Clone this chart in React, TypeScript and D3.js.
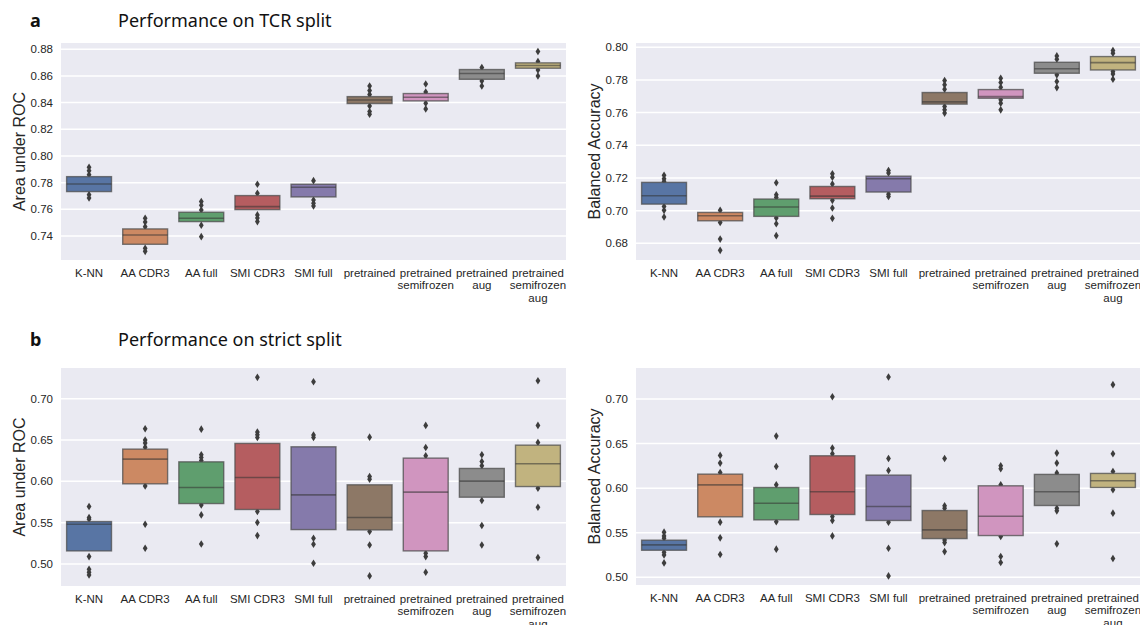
import React from 'react';
import * as d3 from 'd3';

// model names, one entry per box (split into lines for the tick labels)
const models = [
  ['K-NN'],
  ['AA CDR3'],
  ['AA full'],
  ['SMI CDR3'],
  ['SMI full'],
  ['pretrained'],
  ['pretrained', 'semifrozen'],
  ['pretrained', 'aug'],
  ['pretrained', 'semifrozen', 'aug'],
];

const palette = ['#5875a4', '#cc8963', '#5f9e6e', '#b55d60', '#857aab', '#8d7866', '#d095bf', '#8c8c8c', '#c1b37f'];

// a) TCR split, area under ROC
const tcrAucQ1 = [0.7733, 0.7338, 0.7508, 0.7598, 0.7693, 0.8393, 0.8413, 0.8575, 0.8658];
const tcrAucMed = [0.779, 0.7408, 0.7533, 0.762, 0.7765, 0.842, 0.844, 0.8618, 0.8678];
const tcrAucQ3 = [0.7845, 0.7453, 0.7578, 0.7703, 0.7788, 0.8445, 0.8468, 0.8648, 0.8698];
const tcrAucOut = [
  [0.7915, 0.789, 0.786, 0.771, 0.7685],
  [0.7533, 0.7505, 0.747, 0.7308, 0.7285],
  [0.7658, 0.763, 0.7595, 0.748, 0.7395],
  [0.7788, 0.772, 0.7558, 0.7535, 0.7508],
  [0.7815, 0.767, 0.7645, 0.7625],
  [0.8525, 0.849, 0.846, 0.8375, 0.8333, 0.8313],
  [0.854, 0.848, 0.8395, 0.8353],
  [0.8663, 0.8563, 0.8525],
  [0.8783, 0.8708, 0.8645, 0.86],
];
const tcrAucTicks = [0.74, 0.76, 0.78, 0.8, 0.82, 0.84, 0.86, 0.88];

// a) TCR split, balanced accuracy
const tcrAccQ1 = [0.704, 0.6938, 0.6965, 0.7073, 0.7114, 0.7652, 0.7688, 0.7841, 0.7861];
const tcrAccMed = [0.7091, 0.6969, 0.7022, 0.7089, 0.7195, 0.7666, 0.7698, 0.7868, 0.7906];
const tcrAccQ3 = [0.7173, 0.6989, 0.7071, 0.7148, 0.7211, 0.7723, 0.7741, 0.7908, 0.7943];
const tcrAccOut = [
  [0.7216, 0.7195, 0.7179, 0.7026, 0.7002, 0.6961],
  [0.7002, 0.6928, 0.6826, 0.6757],
  [0.7171, 0.7097, 0.7081, 0.6955, 0.692, 0.6847],
  [0.7226, 0.7205, 0.7163, 0.7063, 0.7016, 0.6953],
  [0.7246, 0.723, 0.7101, 0.7087],
  [0.7796, 0.777, 0.7743, 0.7637, 0.7617, 0.7597],
  [0.781, 0.7784, 0.7755, 0.7678, 0.7658, 0.7617],
  [0.7947, 0.7927, 0.7831, 0.779, 0.7753],
  [0.798, 0.7963, 0.7851, 0.7837, 0.7804],
];
const tcrAccTicks = [0.68, 0.7, 0.72, 0.74, 0.76, 0.78, 0.8];

// b) strict split, area under ROC
const strictAucQ1 = [0.5158, 0.597, 0.5731, 0.5659, 0.5416, 0.5412, 0.5158, 0.5808, 0.5937];
const strictAucMed = [0.5481, 0.6269, 0.5925, 0.6046, 0.5836, 0.5562, 0.5869, 0.6002, 0.6212];
const strictAucQ3 = [0.5513, 0.639, 0.6236, 0.6459, 0.6418, 0.5958, 0.6281, 0.6156, 0.6438];
const strictAucOut = [
  [0.5695, 0.5562, 0.5541, 0.5089, 0.4935, 0.4899, 0.4867],
  [0.6636, 0.65, 0.6463, 0.6414, 0.5945, 0.5481, 0.519],
  [0.6632, 0.6321, 0.6289, 0.6253, 0.5715, 0.5594, 0.5242],
  [0.7259, 0.6596, 0.6564, 0.6531, 0.5634, 0.5501, 0.5343],
  [0.7206, 0.656, 0.6531, 0.5311, 0.5238, 0.5008],
  [0.6535, 0.6059, 0.6026, 0.5392, 0.523, 0.4855],
  [0.6677, 0.641, 0.6309, 0.5129, 0.5089, 0.4899],
  [0.6321, 0.624, 0.6188, 0.5768, 0.5465, 0.523],
  [0.7218, 0.6677, 0.6471, 0.5917, 0.5687, 0.5077],
];

// b) strict split, balanced accuracy
const strictAccQ1 = [0.5303, 0.5678, 0.5644, 0.5704, 0.5637, 0.5434, 0.5468, 0.5805, 0.6007];
const strictAccMed = [0.5363, 0.6037, 0.5831, 0.5959, 0.5794, 0.5532, 0.5685, 0.5959, 0.6082];
const strictAccQ3 = [0.5416, 0.6157, 0.6007, 0.6363, 0.6146, 0.5749, 0.6026, 0.6154, 0.6165];
const strictAccOut = [
  [0.5506, 0.5464, 0.5438, 0.528, 0.5251, 0.5161],
  [0.6367, 0.6281, 0.6176, 0.5618, 0.5442, 0.5255],
  [0.6584, 0.6243, 0.6037, 0.5622, 0.5315],
  [0.7026, 0.6449, 0.6386, 0.5682, 0.5637, 0.5464],
  [0.7247, 0.6333, 0.6198, 0.5618, 0.5326, 0.5015],
  [0.6333, 0.5801, 0.5775, 0.5419, 0.5389, 0.5288],
  [0.6251, 0.6217, 0.6037, 0.5457, 0.5232, 0.5165],
  [0.6393, 0.6281, 0.6169, 0.5775, 0.5745, 0.5375],
  [0.7161, 0.6386, 0.6187, 0.5981, 0.5719, 0.521],
];
const strictTicks = [0.5, 0.55, 0.6, 0.65, 0.7];

const tickFont = '"Liberation Sans", Arial, sans-serif';
const titleFont = '"Noto Sans", "Open Sans", sans-serif';

interface PanelProps {
  left: number;
  top: number;
  bottom: number;
  domain: [number, number];
  ticks: number[];
  label: string;
  q1: number[];
  med: number[];
  q3: number[];
  out: number[][];
}

const Panel = ({ left, top, bottom, domain, ticks, label, q1, med, q3, out }: PanelProps) => {
  const width = 505;
  const x = d3.scaleBand<number>().domain(d3.range(models.length)).range([left, left + width]);
  const y = d3.scaleLinear().domain(domain).range([bottom, top]);
  const bw = x.bandwidth() * 0.8;
  const diamond = 'M0,-3.8L2.4,0L0,3.8L-2.4,0Z';

  return (
    <g>
      <rect x={left} y={top} width={width} height={bottom - top} fill="#eaeaf2" />
      {ticks.map(t => (
        <g key={t}>
          <line x1={left} x2={left + width} y1={y(t)} y2={y(t)} stroke="#fff" strokeWidth={1.5} />
          <text x={left - 8} y={y(t)} dy="0.35em" textAnchor="end" fontSize={11.5} fill="#262626" fontFamily={tickFont}>
            {t.toFixed(2)}
          </text>
        </g>
      ))}
      <text
        transform={`translate(${left - 42},${(top + bottom) / 2}) rotate(-90)`}
        textAnchor="middle"
        dy="0.35em"
        fontSize={16}
        fill="#262626"
        fontFamily={tickFont}
      >
        {label}
      </text>
      {models.map((m, i) => {
        const cx = x(i)! + x.bandwidth() / 2;
        return (
          <g key={i}>
            {out[i].map((v, j) => (
              <path key={j} d={diamond} transform={`translate(${cx},${y(v)})`} fill="#3d3d3d" />
            ))}
            <rect
              x={cx - bw / 2}
              y={y(q3[i])}
              width={bw}
              height={y(q1[i]) - y(q3[i])}
              fill={palette[i]}
              stroke="#4d4d4d"
              strokeOpacity={0.75}
              strokeWidth={1.4}
            />
            <line x1={cx - bw / 2} x2={cx + bw / 2} y1={y(med[i])} y2={y(med[i])} stroke="#333" strokeOpacity={0.55} strokeWidth={1.6} />
            {m.map((line, k) => (
              <text key={k} x={cx} y={bottom + 17 + k * 12.3} textAnchor="middle" fontSize={11.5} fill="#262626" fontFamily={tickFont}>
                {line}
              </text>
            ))}
          </g>
        );
      })}
    </g>
  );
};

export default function App() {
  return (
    <svg width={1140} height={625} style={{ position: 'absolute', left: 0, top: 0, background: '#fff' }}>
      <text x={30} y={27} fontSize={18} fontWeight="bold" fontFamily={titleFont} fill="#111">a</text>
      <text x={118} y={27} fontSize={18} fontFamily={titleFont} fill="#111">Performance on TCR split</text>
      <text x={30} y={346} fontSize={18} fontWeight="bold" fontFamily={titleFont} fill="#111">b</text>
      <text x={118} y={346} fontSize={18} fontFamily={titleFont} fill="#111">Performance on strict split</text>

      <Panel left={61} top={43} bottom={260} domain={[0.722, 0.8847]} ticks={tcrAucTicks} label="Area under ROC"
        q1={tcrAucQ1} med={tcrAucMed} q3={tcrAucQ3} out={tcrAucOut} />
      <Panel left={636} top={43} bottom={260} domain={[0.6698, 0.8026]} ticks={tcrAccTicks} label="Balanced Accuracy"
        q1={tcrAccQ1} med={tcrAccMed} q3={tcrAccQ3} out={tcrAccOut} />
      <Panel left={61} top={368} bottom={586} domain={[0.4733, 0.7372]} ticks={strictTicks} label="Area under ROC"
        q1={strictAucQ1} med={strictAucMed} q3={strictAucQ3} out={strictAucOut} />
      <Panel left={636} top={368} bottom={585} domain={[0.4913, 0.7348]} ticks={strictTicks} label="Balanced Accuracy"
        q1={strictAccQ1} med={strictAccMed} q3={strictAccQ3} out={strictAccOut} />
    </svg>
  );
}
